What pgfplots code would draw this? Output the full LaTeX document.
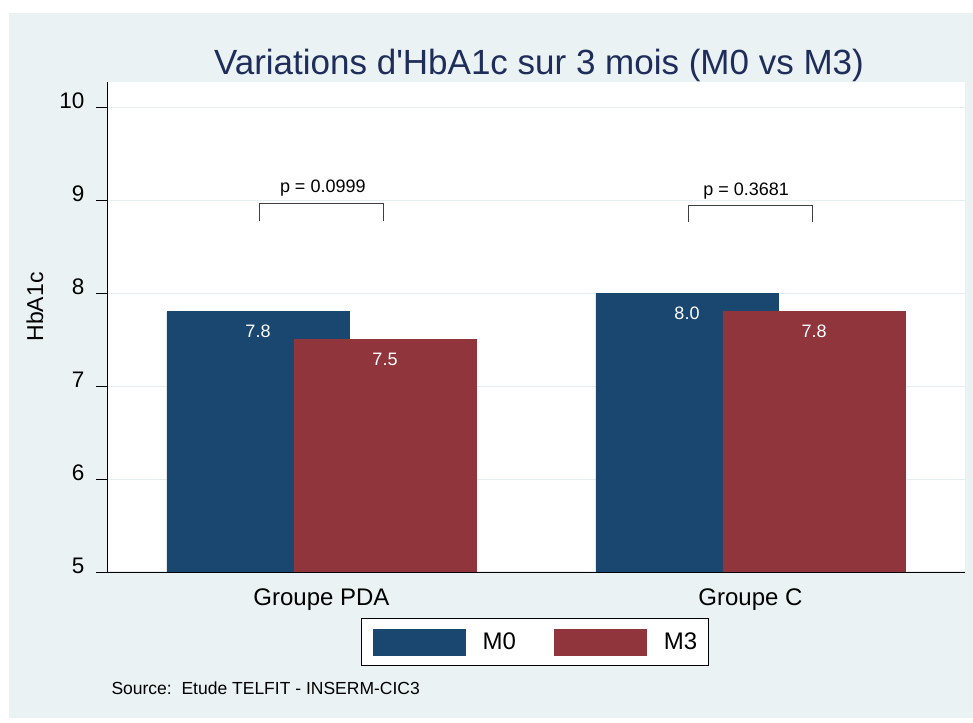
\documentclass[border=0pt]{standalone}
\usepackage{fontspec}
\setmainfont{Liberation Sans}
\usepackage{pgfplots}
\pgfplotsset{compat=1.18}
\definecolor{bgc}{HTML}{EAF2F3}
\definecolor{gridc}{HTML}{E4EDEF}
\definecolor{mzero}{HTML}{1A476F}
\definecolor{mthree}{HTML}{90353B}
\definecolor{titlec}{HTML}{1E2D5A}
\begin{document}
\begin{tikzpicture}[x=1pt,y=1pt]
\fill[white] (0,0) rectangle (973,722);
\fill[bgc] (9,4) rectangle (973,709);
\node[titlec, font=\fontsize{35}{40}\selectfont] at (539,657) {Variations d\textquotesingle HbA1c sur 3 mois (M0 vs M3)};
\node[rotate=90, font=\fontsize{23}{27}\selectfont] at (35,415) {HbA1c};
\node[anchor=west, font=\fontsize{17.5}{21}\selectfont] at (108,34) {Source:\ \ Etude TELFIT - INSERM-CIC3};
\begin{axis}[
  at={(107pt,150pt)}, anchor=south west,
  scale only axis, width=858pt, height=490pt,
  xmin=-0.5, xmax=1.5, ymin=5, ymax=10.27,
  axis background/.style={fill=white},
  axis x line*=bottom, axis y line*=left,
  axis line style={black, line width=0.9pt},
  xtick={0,1}, xticklabels={Groupe PDA, Groupe C},
  x tick style={draw=none},
  ytick={5,6,7,8,9,10},
  y tick style={black, line width=0.9pt},
  tick align=outside, major tick length=11pt,
  ymajorgrids, grid style={gridc, line width=1pt},
  /pgf/number format/assume math mode=true,
  yticklabel style={font=\fontsize{22.5}{26}\selectfont, anchor=east, yshift=6pt, xshift=-8pt},
  xticklabel style={font=\fontsize{24}{28}\selectfont, anchor=north, yshift=-2pt},
  legend columns=-1,
  legend style={at={(axis description cs:0.4988,-0.1429)}, anchor=center,
    draw=black, line width=0.8pt, fill=white,
    inner xsep=11pt, inner ysep=10pt,
    font=\fontsize{24}{28}\selectfont,
    nodes={inner sep=0pt, anchor=west},
    /tikz/every odd column/.style={column sep=17pt},
    /tikz/every even column/.style={column sep=38pt}},
]
\addplot[ybar, bar width=0.425, bar shift=-0.148, fill=mzero, draw=mzero,
  nodes near coords={\pgfmathprintnumber[fixed,fixed zerofill,precision=1]{\pgfplotspointmeta}},
  nodes near coords style={white, anchor=center, yshift=-20pt, xshift=-63.5pt, font=\fontsize{18}{22}\selectfont},
  legend image code/.code={\fill[mzero] (0pt,-13pt) rectangle (92pt,13pt);}]
  coordinates {(0,7.8) (1,8.0)};
\addlegendentry{M0}
\addplot[ybar, bar width=0.425, bar shift=0.148, fill=mthree, draw=mthree,
  nodes near coords={\pgfmathprintnumber[fixed,fixed zerofill,precision=1]{\pgfplotspointmeta}},
  nodes near coords style={white, anchor=center, yshift=-20pt, xshift=63.5pt, font=\fontsize{18}{22}\selectfont},
  legend image code/.code={\fill[mthree] (0pt,-13pt) rectangle (92pt,13pt);}]
  coordinates {(0,7.5) (1,7.8)};
\addlegendentry{M3}
\addplot[forget plot, black!75, line width=1pt, mark=none] coordinates {(-0.145,8.77) (-0.145,8.96) (0.145,8.96) (0.145,8.77)};
\addplot[forget plot, black!75, line width=1pt, mark=none] coordinates {(0.855,8.76) (0.855,8.94) (1.145,8.94) (1.145,8.76)};
\node[font=\fontsize{18}{22}\selectfont] at (axis cs:0.003,9.13) {p = 0.0999};
\node[font=\fontsize{18}{22}\selectfont] at (axis cs:0.99,9.10) {p = 0.3681};
\end{axis}
\end{tikzpicture}
\end{document}
